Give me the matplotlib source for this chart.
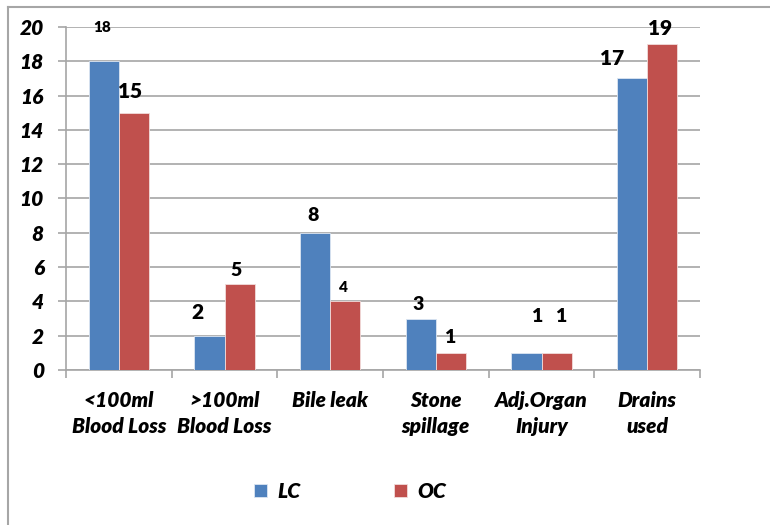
import numpy as np
import matplotlib
matplotlib.use('Agg')
import matplotlib.pyplot as plt
from matplotlib.lines import Line2D

plt.rcParams['font.family'] = ['Lato', 'DejaVu Sans']

# Complicaciones intraoperatorias por grupo
categorias = ['<100ml\nBlood Loss', '>100ml\nBlood Loss', 'Bile leak',
              'Stone\nspillage', 'Adj.Organ\nInjury', 'Drains\nused']
lc = [18, 2, 8, 3, 1, 17]
oc = [15, 5, 4, 1, 1, 19]

# desplazamiento (px) y tamaño de cada etiqueta de valor
off_lc = [(-2, 34), (-12, 23), (-2, 17), (-3, 14), (10, 36), (-20, 20)]
off_oc = [(-4, 21), (-3, 14), (-2, 14), (-1, 15), (4, 36), (-2, 16)]
size_lc = [11, 15, 14, 14, 14, 15]
size_oc = [15, 14, 11, 14, 14, 15]

fig = plt.figure(figsize=(7.7, 5.25), dpi=100)
ax = fig.add_axes([66 / 770, 1 - 370 / 525, 634 / 770, 343 / 525])

x = np.arange(len(categorias))
w = 0.284
b1 = ax.bar(x - w / 2, lc, w, color='#4F81BD', edgecolor='#DCE6F2', linewidth=0.6, label='LC', zorder=3)
b2 = ax.bar(x + w / 2, oc, w, color='#C0504D', edgecolor='#F2DCDB', linewidth=0.6, label='OC', zorder=3)

for i in range(len(x)):
    ax.annotate(str(lc[i]), (x[i] - w / 2, lc[i]), xytext=off_lc[i], textcoords='offset pixels',
                ha='center', va='center', fontsize=size_lc[i], fontweight='heavy', zorder=4)
    ax.annotate(str(oc[i]), (x[i] + w / 2, oc[i]), xytext=off_oc[i], textcoords='offset pixels',
                ha='center', va='center', fontsize=size_oc[i], fontweight='heavy', zorder=4)

ax.set_xlim(-0.5, len(x) - 0.5)
ax.set_ylim(0, 20)
ax.set_yticks(range(0, 21, 2))
ax.yaxis.grid(True, color='#A6A6A6', linewidth=1.2, zorder=0)
ax.set_axisbelow(True)

ax.set_xticks(x)
ax.set_xticklabels(categorias, fontsize=15, fontweight='heavy', style='italic', linespacing=1.45)
ax.set_xticks(np.arange(-0.5, len(x)), minor=True)
ax.tick_params(axis='x', which='major', length=0, pad=15)
ax.tick_params(axis='x', which='minor', length=6, color='#A6A6A6', width=1.2)
ax.tick_params(axis='y', length=6, color='#A6A6A6', width=1.2, pad=10)
for t in ax.get_yticklabels():
    t.set_fontsize(15)
    t.set_fontweight('heavy')
    t.set_style('italic')

for s in ['top', 'right']:
    ax.spines[s].set_visible(False)
for s in ['left', 'bottom']:
    ax.spines[s].set_color('#A6A6A6')
    ax.spines[s].set_linewidth(1.2)

fig.legend(handles=[b1, b2], loc='center', bbox_to_anchor=(350 / 770, 1 - 491 / 525), ncol=2,
           frameon=False, handlelength=0.6, handleheight=0.6, handletextpad=0.5, columnspacing=4.5,
           prop={'size': 15, 'weight': 'heavy', 'style': 'italic'})

# marco exterior del gráfico
fig.add_artist(Line2D([8 / 770, 8 / 770], [0, 1 - 7 / 525], color='#A6A6A6', linewidth=1.5))
fig.add_artist(Line2D([8 / 770, 1], [1 - 7 / 525, 1 - 7 / 525], color='#A6A6A6', linewidth=1.5))

plt.savefig('out.png', dpi=100)
